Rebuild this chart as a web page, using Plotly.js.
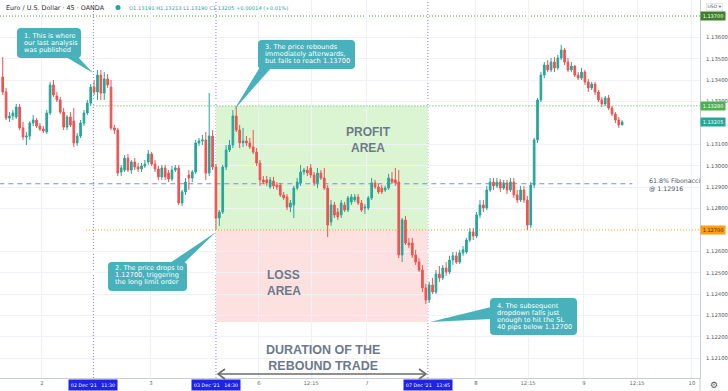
<!DOCTYPE html>
<html><head><meta charset="utf-8">
<script src="https://cdn.plot.ly/plotly-3.0.1.min.js"></script>
<style>html,body{margin:0;padding:0;background:#fff;}#chart{width:728px;height:391px;}</style>
</head><body><div id="chart"></div>
<script>
// ---------- DATA (EUR/USD, 45-minute candles, OANDA) ----------
const open = [
1.13415,1.13345,1.13223,1.13233,1.13228,1.13275,1.13177,1.13135,1.13139,1.13200,
1.13214,1.13186,1.13172,1.13158,1.13247,1.13378,1.13326,1.13308,1.13251,1.13181,
1.13228,1.13209,1.13107,1.13139,1.13200,1.13247,1.13293,1.13368,1.13345,1.13424,
1.13340,1.13406,1.13368,1.13177,1.13167,1.12971,1.12980,1.13036,1.12980,1.13018,
1.12994,1.12985,1.12999,1.13018,1.13055,1.13008,1.12985,1.12948,1.12990,1.12966,
1.12938,1.12980,1.12990,1.12826,1.12878,1.12957,1.12943,1.12971,1.13107,1.13116,
1.13121,1.12966,1.13139,1.12994,1.12756,1.12784,1.12994,1.13074,1.13097,1.13233,
1.13167,1.13107,1.13116,1.13107,1.13088,1.13064,1.13013,1.12934,1.12934,1.12901,
1.12929,1.12910,1.12910,1.12864,1.12854,1.12807,1.12817,1.12896,1.12920,1.12971,
1.12980,1.12990,1.12957,1.12920,1.12966,1.12943,1.12896,1.12737,1.12817,1.12784,
1.12770,1.12817,1.12793,1.12831,1.12840,1.12854,1.12826,1.12803,1.12803,1.12850,
1.12920,1.12901,1.12896,1.12887,1.12896,1.12938,1.12934,1.12924,1.12583,1.12747,
1.12639,1.12639,1.12583,1.12550,1.12513,1.12429,1.12373,1.12443,1.12410,1.12494,
1.12476,1.12522,1.12504,1.12560,1.12579,1.12550,1.12593,1.12597,1.12653,1.12691,
1.12672,1.12770,1.12817,1.12803,1.12887,1.12924,1.12906,1.12924,1.12896,1.12920,
1.12887,1.12924,1.12864,1.12840,1.12887,1.12840,1.12723,1.12910,1.13121,1.13308,
1.13424,1.13471,1.13448,1.13485,1.13457,1.13504,1.13541,1.13485,1.13448,1.13466,
1.13424,1.13410,1.13438,1.13392,1.13364,1.13382,1.13345,1.13308,1.13289,1.13317,
1.13270,1.13242,1.13214,1.13191];
const high = [
1.13508,1.13364,1.13251,1.13261,1.13289,1.13289,1.13205,1.13158,1.13209,1.13237,
1.13223,1.13200,1.13186,1.13261,1.13392,1.13401,1.13345,1.13322,1.13270,1.13237,
1.13251,1.13270,1.13153,1.13214,1.13261,1.13308,1.13382,1.13401,1.13448,1.13448,
1.13438,1.13429,1.13401,1.13191,1.13177,1.13004,1.13050,1.13055,1.13027,1.13036,
1.13013,1.13013,1.13027,1.13074,1.13064,1.13027,1.12999,1.13004,1.13004,1.12980,
1.12999,1.13004,1.13004,1.12887,1.12943,1.12980,1.12980,1.13121,1.13130,1.13144,
1.13158,1.13340,1.13167,1.13008,1.12793,1.13004,1.13097,1.13121,1.13261,1.13279,
1.13191,1.13177,1.13139,1.13130,1.13167,1.13083,1.13027,1.12952,1.12952,1.12948,
1.12948,1.12924,1.12920,1.12878,1.12868,1.12840,1.12906,1.12943,1.13004,1.12990,
1.12999,1.13008,1.12971,1.12990,1.12980,1.12990,1.12910,1.12840,1.12831,1.12803,
1.12840,1.12831,1.12859,1.12868,1.12868,1.12868,1.12840,1.12821,1.12859,1.12943,
1.12934,1.12915,1.12910,1.12906,1.12962,1.12971,1.12990,1.12980,1.12756,1.12765,
1.12663,1.12663,1.12607,1.12569,1.12536,1.12448,1.12457,1.12476,1.12513,1.12532,
1.12536,1.12550,1.12579,1.12597,1.12597,1.12607,1.12625,1.12663,1.12709,1.12709,
1.12784,1.12840,1.12840,1.12906,1.12943,1.12943,1.12943,1.12938,1.12934,1.12934,
1.12943,1.12943,1.12887,1.12906,1.12906,1.12859,1.12924,1.13130,1.13317,1.13438,
1.13485,1.13494,1.13504,1.13508,1.13518,1.13565,1.13550,1.13504,1.13485,1.13471,
1.13438,1.13457,1.13448,1.13406,1.13392,1.13392,1.13354,1.13322,1.13326,1.13331,
1.13279,1.13251,1.13228,1.13213];
const low = [
1.13331,1.13214,1.13205,1.13214,1.13219,1.13167,1.13121,1.13097,1.13121,1.13186,
1.13177,1.13163,1.13153,1.13149,1.13237,1.13322,1.13298,1.13242,1.13167,1.13167,
1.13181,1.13088,1.13093,1.13130,1.13186,1.13237,1.13279,1.13331,1.13308,1.13308,
1.13308,1.13364,1.13167,1.13149,1.12952,1.12952,1.12971,1.12971,1.12962,1.12980,
1.12971,1.12971,1.12990,1.13004,1.12999,1.12971,1.12934,1.12934,1.12934,1.12924,
1.12929,1.12971,1.12817,1.12812,1.12864,1.12887,1.12924,1.12962,1.13093,1.13097,
1.12934,1.12952,1.12980,1.12700,1.12719,1.12775,1.12980,1.13064,1.13083,1.13158,
1.13083,1.13088,1.13093,1.13079,1.13055,1.12999,1.12906,1.12915,1.12906,1.12892,
1.12892,1.12887,1.12854,1.12840,1.12793,1.12784,1.12756,1.12887,1.12906,1.12957,
1.12952,1.12943,1.12906,1.12896,1.12934,1.12887,1.12667,1.12719,1.12756,1.12747,
1.12756,1.12784,1.12784,1.12817,1.12831,1.12817,1.12784,1.12775,1.12793,1.12840,
1.12892,1.12868,1.12868,1.12878,1.12887,1.12915,1.12906,1.12569,1.12550,1.12630,
1.12616,1.12569,1.12536,1.12504,1.12410,1.12354,1.12359,1.12401,1.12401,1.12457,
1.12466,1.12485,1.12494,1.12536,1.12541,1.12541,1.12579,1.12588,1.12644,1.12653,
1.12663,1.12756,1.12784,1.12793,1.12878,1.12887,1.12896,1.12878,1.12887,1.12868,
1.12878,1.12850,1.12826,1.12831,1.12826,1.12700,1.12709,1.12896,1.13107,1.13298,
1.13410,1.13438,1.13438,1.13438,1.13448,1.13494,1.13471,1.13438,1.13438,1.13415,
1.13401,1.13401,1.13378,1.13345,1.13354,1.13331,1.13298,1.13275,1.13279,1.13261,
1.13233,1.13200,1.13177,1.13190];
const close = [
1.13345,1.13223,1.13233,1.13247,1.13275,1.13177,1.13135,1.13139,1.13200,1.13214,
1.13186,1.13172,1.13163,1.13247,1.13378,1.13331,1.13308,1.13251,1.13181,1.13228,
1.13191,1.13107,1.13139,1.13200,1.13247,1.13293,1.13368,1.13345,1.13424,1.13340,
1.13406,1.13378,1.13177,1.13167,1.12966,1.12990,1.13036,1.12980,1.13018,1.12994,
1.12985,1.12999,1.13008,1.13055,1.13008,1.12985,1.12948,1.12990,1.12948,1.12938,
1.12980,1.12990,1.12826,1.12878,1.12924,1.12943,1.12971,1.13107,1.13116,1.13121,
1.12966,1.13139,1.12994,1.12756,1.12784,1.12994,1.13074,1.13097,1.13233,1.13167,
1.13107,1.13116,1.13107,1.13088,1.13064,1.13013,1.12934,1.12924,1.12920,1.12934,
1.12906,1.12901,1.12864,1.12850,1.12807,1.12826,1.12896,1.12924,1.12971,1.12980,
1.12966,1.12957,1.12920,1.12966,1.12943,1.12896,1.12723,1.12817,1.12770,1.12761,
1.12826,1.12793,1.12850,1.12854,1.12854,1.12826,1.12793,1.12807,1.12850,1.12920,
1.12901,1.12878,1.12878,1.12896,1.12943,1.12924,1.12920,1.12583,1.12747,1.12639,
1.12630,1.12583,1.12550,1.12513,1.12429,1.12373,1.12443,1.12410,1.12494,1.12476,
1.12522,1.12504,1.12560,1.12579,1.12550,1.12593,1.12607,1.12653,1.12691,1.12672,
1.12770,1.12817,1.12803,1.12887,1.12924,1.12906,1.12924,1.12896,1.12920,1.12887,
1.12924,1.12864,1.12840,1.12887,1.12840,1.12723,1.12910,1.13121,1.13308,1.13424,
1.13471,1.13448,1.13485,1.13457,1.13504,1.13541,1.13485,1.13448,1.13466,1.13424,
1.13410,1.13438,1.13392,1.13364,1.13382,1.13345,1.13308,1.13289,1.13317,1.13270,
1.13242,1.13214,1.13191,1.13205];

const xTickLabels = ['2','3','6','12:15','7','8','12:15','9','12:15','10'];
const xTickPos = [11.6,43.8,75.7,91.1,107.6,139.8,155.2,171.7,187.4,203.6];
// 1.13700, 1.13200 and 1.12700 are covered by the coloured price tags
const priceTicks = [1.121,1.122,1.123,1.124,1.125,1.126,1.128,1.129,1.130,1.131,1.133,1.134,1.135,1.136];
const eventLabels = ["02 Dec '21   11:30","03 Dec '21   14:30","07 Dec '21   13:45"];
const eventPos = [26.8, 63.0, 125.6];

const targetLevel = 1.13700;
const reboundHigh = 1.13280;
const entryLevel = 1.12700;
const stopLevel = 1.12270;
const fibLevel = 1.12916;

const symbolTitle = 'Euro / U.S. Dollar · 45 · OANDA';
const callout1 = ['1. This is where','our last analysis','was published'];
const callout2 = ['2. The price drops to','1.12700, triggering','the long limit order'];
const callout3 = ['3. The price rebounds','immediately afterwards,','but fails to reach 1.13700'];
const callout4 = ['4. The subsequent','dropdown falls just','enough to hit the SL','40 pips below 1.12700'];

// ---------- BUILD ----------
const n = open.length;
const xIdx = Array.from({length:n},(_,i)=>i);
const W = 700, H = 378;
const X = px => px / W;
const Y = py => 1 - py / H;
const GREEN = '#26a69a', RED = '#ef5350', TEAL = '#48b1bc';

const traces = [{
  type:'candlestick', x:xIdx, open:open, high:high, low:low, close:close,
  increasing:{line:{color:GREEN,width:1},fillcolor:GREEN},
  decreasing:{line:{color:RED,width:1},fillcolor:RED},
  whiskerwidth:0, hoverinfo:'skip', showlegend:false
}];

const shapes = [];
const annotations = [];

// zones
shapes.push({type:'rect',xref:'x',yref:'y',x0:eventPos[1],x1:eventPos[2],y0:entryLevel,y1:reboundHigh,
  fillcolor:'#dbf5d2',line:{width:0},layer:'below'});
shapes.push({type:'rect',xref:'x',yref:'y',x0:eventPos[1],x1:eventPos[2],y0:stopLevel,y1:entryLevel,
  fillcolor:'#fde0e0',line:{width:0},layer:'below'});

// level lines
shapes.push({type:'line',xref:'paper',yref:'y',x0:0,x1:1,y0:targetLevel,y1:targetLevel,
  line:{color:'#4f9a35',width:1,dash:'1px,2px'},layer:'between'});
shapes.push({type:'line',xref:'x',yref:'y',x0:eventPos[0],x1:206,y0:reboundHigh,y1:reboundHigh,
  line:{color:'#4caf50',width:1,dash:'1px,2px'},layer:'between'});
shapes.push({type:'line',xref:'x',yref:'y',x0:24.6,x1:206,y0:entryLevel,y1:entryLevel,
  line:{color:'#f5a11c',width:1,dash:'1px,2px'},layer:'between'});
shapes.push({type:'line',xref:'x',yref:'y',x0:-1,x1:186,y0:fibLevel,y1:fibLevel,
  line:{color:'#7d8fd6',width:1.2,dash:'5px,4px'},layer:'between'});

// event vertical lines
eventPos.forEach(p=>shapes.push({type:'line',xref:'x',yref:'paper',x0:p,x1:p,y0:0,y1:1,
  line:{color:'#8a7cdc',width:1,dash:'1px,2px'},layer:'between'}));

// axis separator below plot
shapes.push({type:'line',xref:'paper',yref:'paper',x0:1,x1:1,y0:0,y1:Y(391),line:{color:'#c8ccd4',width:1}});

// callout builder
function roundRect(l,t,r,b,rad){
  return `M ${X(l+rad)} ${Y(t)} L ${X(r-rad)} ${Y(t)} Q ${X(r)} ${Y(t)} ${X(r)} ${Y(t+rad)} `+
         `L ${X(r)} ${Y(b-rad)} Q ${X(r)} ${Y(b)} ${X(r-rad)} ${Y(b)} L ${X(l+rad)} ${Y(b)} `+
         `Q ${X(l)} ${Y(b)} ${X(l)} ${Y(b-rad)} L ${X(l)} ${Y(t+rad)} Q ${X(l)} ${Y(t)} ${X(l+rad)} ${Y(t)} Z`;
}
function callout(lines,l,t,r,b,tail,textX,firstY,step){
  shapes.push({type:'path',xref:'paper',yref:'paper',path:roundRect(l,t,r,b,4),fillcolor:TEAL,line:{width:0},layer:'above'});
  const tp = `M ${X(tail[0][0])} ${Y(tail[0][1])} L ${X(tail[1][0])} ${Y(tail[1][1])} L ${X(tail[2][0])} ${Y(tail[2][1])} Z`;
  shapes.push({type:'path',xref:'paper',yref:'paper',path:tp,fillcolor:TEAL,line:{width:0},layer:'above'});
  lines.forEach((s,i)=>annotations.push({xref:'paper',yref:'paper',x:X(textX),y:Y(firstY+i*step),
    xanchor:'left',yanchor:'middle',showarrow:false,text:s,font:{family:'DejaVu Sans',size:6.6,color:'#ffffff'}}));
}
callout(callout1,17,28,81,58,[[66,57],[78,57],[93,73]],22,36,7.1);
callout(callout3,258,40,355,69,[[260,67],[272,67],[234,110]],263,47,7.2);
callout(callout2,108,262,187,291,[[170,263],[184,263],[216,232]],113,268,7.1);
callout(callout4,490,298,577,335,[[491,307],[491,319],[430,322]],495,306,7.0);

// duration arrow
const ay = 374;
shapes.push({type:'path',xref:'paper',yref:'paper',
  path:`M ${X(218)} ${Y(ay)} L ${X(426)} ${Y(ay)}`,line:{color:'#6b6b6b',width:1.6},layer:'above'});
shapes.push({type:'path',xref:'paper',yref:'paper',
  path:`M ${X(225)} ${Y(ay-5)} L ${X(218)} ${Y(ay)} L ${X(225)} ${Y(ay+5)}`,line:{color:'#6b6b6b',width:1.6},layer:'above'});
shapes.push({type:'path',xref:'paper',yref:'paper',
  path:`M ${X(419)} ${Y(ay-5)} L ${X(426)} ${Y(ay)} L ${X(419)} ${Y(ay+5)}`,line:{color:'#6b6b6b',width:1.6},layer:'above'});

// header dot
shapes.push({type:'circle',xref:'paper',yref:'paper',x0:X(115.5),x1:X(120.5),y0:Y(10),y1:Y(5),
  fillcolor:GREEN,line:{width:0}});

// area texts
const AREA_FONT = {family:'Liberation Sans',size:12,color:'#6c7a8a'};
annotations.push({xref:'paper',yref:'paper',x:X(368),y:Y(140),text:'<b>PROFIT<br>AREA</b>',showarrow:false,
  xanchor:'center',yanchor:'middle',font:AREA_FONT,align:'center'});
annotations.push({xref:'paper',yref:'paper',x:X(265),y:Y(283),text:'<b>LOSS<br>AREA</b>',showarrow:false,
  xanchor:'left',yanchor:'middle',font:AREA_FONT,align:'left'});
annotations.push({xref:'paper',yref:'paper',x:X(323),y:Y(358),text:'<b>DURATION OF THE<br>REBOUND TRADE</b>',showarrow:false,
  xanchor:'center',yanchor:'middle',font:{family:'Liberation Sans',size:12.5,color:'#6c7a8a'},align:'center'});

// fib label
annotations.push({xref:'paper',yref:'paper',x:X(647),y:Y(185),text:'61.8% Fibonacci<br>@ '+fibLevel.toFixed(5),
  showarrow:false,xanchor:'left',yanchor:'middle',align:'left',font:{family:'DejaVu Sans',size:6.3,color:'#4a5466'}});

// header
const last = n-1;
const chg = close[last]-close[last-1];
const ohlcText = `O${open[last].toFixed(5)} H${high[last].toFixed(5)} L${low[last].toFixed(5)} C${close[last].toFixed(5)} `+
  `${chg>=0?'+':''}${chg.toFixed(5)} (${chg>=0?'+':''}${(chg/close[last-1]*100).toFixed(2)}%)`;
annotations.push({xref:'paper',yref:'paper',x:X(4),y:Y(7.5),text:symbolTitle,showarrow:false,xanchor:'left',yanchor:'middle',
  font:{family:'DejaVu Sans',size:6.4,color:'#2e2e2e'}});
annotations.push({xref:'paper',yref:'paper',x:X(127),y:Y(7.5),text:ohlcText,showarrow:false,xanchor:'left',yanchor:'middle',
  font:{family:'DejaVu Sans',size:5.2,color:GREEN}});

// price labels on right axis
function priceTag(p,bg,fg){
  annotations.push({xref:'paper',yref:'y',x:1,y:p,xanchor:'left',yanchor:'middle',showarrow:false,
    text:p.toFixed(5),bgcolor:bg,width:23,height:7,borderpad:0.5,font:{family:'DejaVu Sans',size:5,color:fg}});
}
priceTag(targetLevel,'#3f7f2a','#ffffff');
priceTag(reboundHigh,'#4caf50','#ffffff');
priceTag(close[last],GREEN,'#ffffff');
priceTag(entryLevel,'#ff9d14','#3a2a10');

annotations.push({xref:'paper',yref:'paper',x:X(714),y:Y(7),text:'USD ▾',showarrow:false,xanchor:'center',yanchor:'middle',
  bordercolor:'#d6d9de',borderwidth:0.6,borderpad:0.8,font:{family:'DejaVu Sans',size:4.6,color:'#555'}});

// event date tags
eventPos.forEach((p,i)=>annotations.push({xref:'x',yref:'paper',x:p,y:Y(384.5),xanchor:'center',yanchor:'middle',
  showarrow:false,text:eventLabels[i],bgcolor:'#1f22e8',width:46,height:8,borderpad:1,
  font:{family:'DejaVu Sans',size:4.8,color:'#ffffff'}}));

// gear
annotations.push({xref:'paper',yref:'paper',x:X(714),y:Y(384.5),text:'⚙',showarrow:false,xanchor:'center',yanchor:'middle',
  font:{family:'DejaVu Sans',size:9,color:'#555'}});

const layout = {
  width:728,height:391,margin:{l:0,r:28,t:0,b:13,pad:0},
  paper_bgcolor:'#ffffff',plot_bgcolor:'#ffffff',
  font:{family:'DejaVu Sans'},
  showlegend:false,hovermode:false,dragmode:false,
  xaxis:{type:'linear',range:[-0.8,206],tickmode:'array',tickvals:xTickPos,ticktext:xTickLabels,
    showgrid:true,gridcolor:'#eef1f6',gridwidth:1,zeroline:false,showline:true,linecolor:'#c8ccd4',linewidth:1,
    ticks:'',tickfont:{size:5.3,color:'#6b6b6b'},rangeslider:{visible:false},fixedrange:true},
  yaxis:{side:'right',range:[1.12008,1.13775],tickmode:'array',tickvals:priceTicks,tickformat:'.5f',
    showgrid:true,gridcolor:'#eef1f6',gridwidth:1,zeroline:false,showline:true,linecolor:'#c8ccd4',linewidth:1,
    ticks:'',ticklabelstandoff:4,tickfont:{size:5.3,color:'#555'},fixedrange:true},
  shapes:shapes,annotations:annotations
};
Plotly.newPlot('chart',traces,layout,{displayModeBar:false,staticPlot:true});
</script></body></html>
